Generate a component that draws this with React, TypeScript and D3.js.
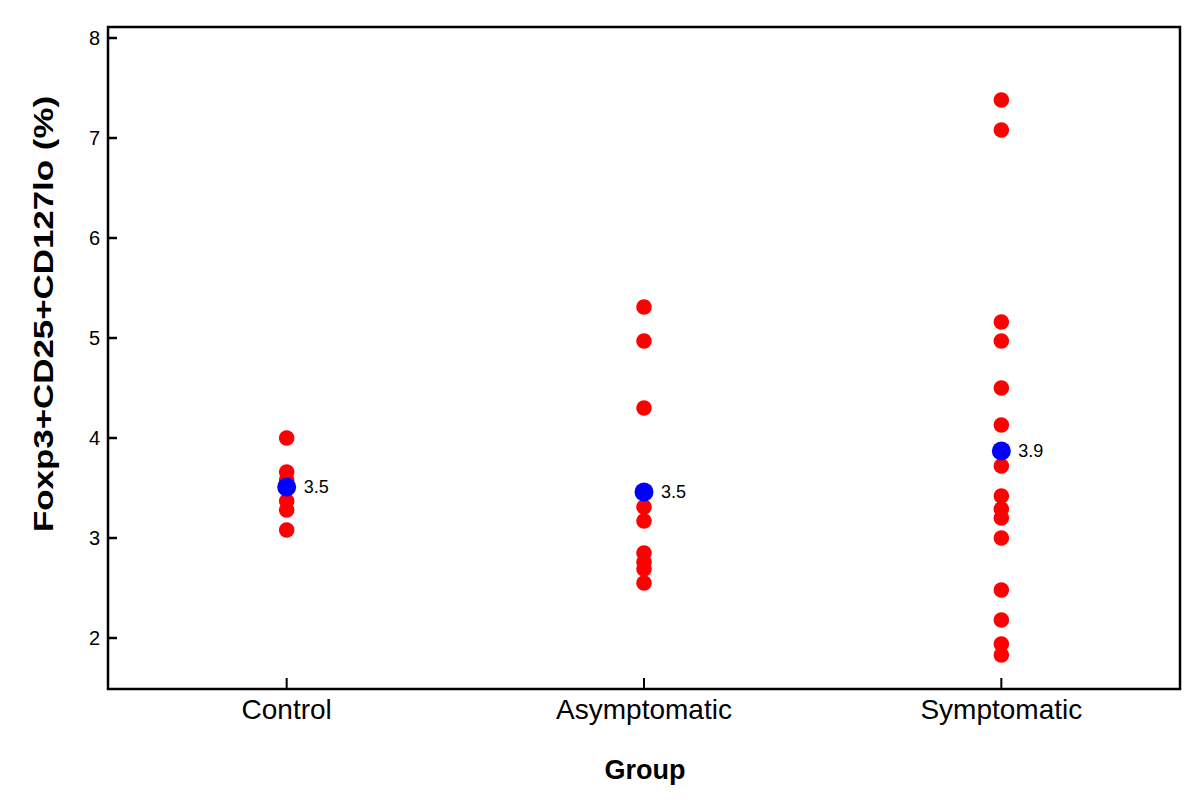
import React from "react";
import * as d3 from "d3";

const groups = ["Control", "Asymptomatic", "Symptomatic"];
const controlValues = [4.0, 3.66, 3.58, 3.37, 3.28, 3.08];
const asymptomaticValues = [5.31, 4.97, 4.3, 3.31, 3.17, 2.85, 2.76, 2.69, 2.55];
const symptomaticValues = [7.38, 7.08, 5.16, 4.97, 4.5, 4.13, 3.72, 3.42, 3.29, 3.2, 3.0, 2.48, 2.18, 1.94, 1.83];
const meanValues = [3.51, 3.46, 3.87];
const meanLabels = ["3.5", "3.5", "3.9"];
const yTicks = [2, 3, 4, 5, 6, 7, 8];

const W = 1200;
const H = 801;
const left = 108, right = 1180, top = 27, bottom = 689;
const FONT = "Liberation Sans, Arial, Helvetica, sans-serif";

export default function App() {
  const series = [controlValues, asymptomaticValues, symptomaticValues];
  const x = d3.scalePoint<string>().domain(groups).range([left, right]).padding(0.5);
  const y = d3.scaleLinear().domain([1.49, 8.11]).range([bottom, top]);

  return (
    <svg width={W} height={H} style={{ position: "absolute", left: 0, top: 0, background: "#fff" }}>
      <rect x={0} y={0} width={W} height={H} fill="#fff" />
      {/* y ticks */}
      {yTicks.map((t) => (
        <g key={t}>
          <line x1={left} x2={left + 9} y1={y(t)} y2={y(t)} stroke="#000" strokeWidth={2.5} />
          <text x={100} y={y(t)} dy="0.36em" textAnchor="end" fontFamily={FONT} fontSize={20} fill="#000">
            {t}
          </text>
        </g>
      ))}
      {/* x ticks */}
      {groups.map((g) => (
        <g key={g}>
          <line x1={x(g)!} x2={x(g)!} y1={bottom} y2={bottom - 11} stroke="#000" strokeWidth={2} />
          <text x={x(g)!} y={719} textAnchor="middle" fontFamily={FONT} fontSize={28} fill="#000">
            {g}
          </text>
        </g>
      ))}
      {/* points */}
      {series.map((vals, i) =>
        vals.map((v, j) => <circle key={`${i}-${j}`} cx={x(groups[i])!} cy={y(v)} r={7.8} fill="#ff0000" />)
      )}
      {/* means */}
      {meanValues.map((m, i) => (
        <g key={`m${i}`}>
          <circle cx={x(groups[i])!} cy={y(m)} r={9.5} fill="#0000ff" />
          <text x={x(groups[i])! + 17} y={y(m)} dy="0.36em" fontFamily={FONT} fontSize={18} fill="#000">
            {meanLabels[i]}
          </text>
        </g>
      ))}
      {/* frame */}
      <rect x={left} y={top} width={right - left} height={bottom - top} fill="none" stroke="#000" strokeWidth={2.5} />
      {/* axis titles */}
      <text x={645} y={779} textAnchor="middle" fontFamily={FONT} fontSize={27} fontWeight="bold" fill="#000">
        Group
      </text>
      <text
        transform={`translate(53, 314) rotate(-90)`}
        textAnchor="middle"
        fontFamily={FONT}
        fontSize={28}
        fontWeight="bold"
        fill="#000"
        textLength={436}
        lengthAdjust="spacingAndGlyphs"
      >
        Foxp3+CD25+CD127lo (%)
      </text>
    </svg>
  );
}
